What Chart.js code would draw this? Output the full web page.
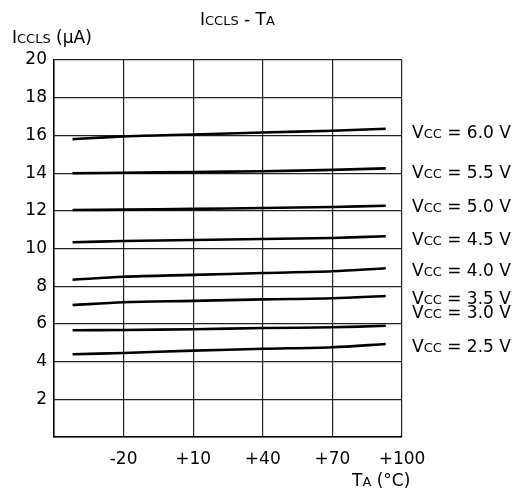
<!DOCTYPE html>
<html>
<head>
<meta charset="utf-8">
<script src="https://cdn.jsdelivr.net/npm/chart.js@4/dist/chart.umd.min.js"></script>
<style>
  body { margin: 0; background: #fff; }
  canvas { display: block; }
</style>
</head>
<body>
<canvas id="chart" width="523" height="494"></canvas>
<script>
// temperature points (°C)
var temps = [-42, -20, 10, 40, 70, 93];

// ICCLS (µA) for each supply voltage
var vcc60 = [15.8, 15.95, 16.05, 16.15, 16.25, 16.35];
var vcc55 = [13.99, 14.02, 14.06, 14.1, 14.17, 14.25];
var vcc50 = [12.04, 12.06, 12.1, 12.15, 12.2, 12.27];
var vcc45 = [10.33, 10.4, 10.45, 10.5, 10.56, 10.65];
var vcc40 = [8.34, 8.5, 8.6, 8.7, 8.79, 8.95];
var vcc35 = [7.0, 7.15, 7.22, 7.3, 7.36, 7.48];
var vcc30 = [5.66, 5.68, 5.72, 5.78, 5.82, 5.9];
var vcc25 = [4.39, 4.46, 4.58, 4.68, 4.76, 4.93];

var seriesNames = ["6.0 V", "5.5 V", "5.0 V", "4.5 V", "4.0 V", "3.5 V", "3.0 V", "2.5 V"];
var seriesData = [vcc60, vcc55, vcc50, vcc45, vcc40, vcc35, vcc30, vcc25];

// where the right hand labels sit (in µA)
var labelAt = [16.2, 14.07, 12.27, 10.5, 8.88, 7.36, 6.65, 4.84];

var FONT = "'DejaVu Sans', sans-serif";
var BIG = 17;
var SMALL = 13;

function drawParts(ctx, x, y, parts) {
    // parts: [text, size] drawn left to right on one baseline
    ctx.textAlign = "left";
    ctx.textBaseline = "alphabetic";
    for (var i = 0; i < parts.length; i++) {
        ctx.font = parts[i][1] + "px " + FONT;
        ctx.fillText(parts[i][0], x, y);
        x += ctx.measureText(parts[i][0]).width;
    }
}

var textPlugin = {
    id: "texts",
    afterDraw: function (chart) {
        var ctx = chart.ctx;
        var ys = chart.scales.y;
        var area = chart.chartArea;
        ctx.save();
        ctx.fillStyle = "#000";
        drawParts(ctx, 200, 25, [["I", BIG], ["CCLS", SMALL], [" - T", BIG], ["A", SMALL]]);
        drawParts(ctx, 12, 43, [["I", BIG], ["CCLS", SMALL], [" (\u00b5A)", BIG]]);
        drawParts(ctx, 352, 486, [["T", BIG], ["A", SMALL], [" (\u00b0C)", BIG]]);
        for (var i = 0; i < seriesNames.length; i++) {
            var py = ys.getPixelForValue(labelAt[i]) + 6;
            drawParts(ctx, area.right + 10, py, [["V", BIG], ["CC", SMALL], [" = " + seriesNames[i], BIG]]);
        }
        ctx.restore();
    }
};

var datasets = seriesData.map(function (vals, k) {
    return {
        label: "Vcc = " + seriesNames[k],
        data: temps.map(function (t, i) { return { x: t, y: vals[i] }; }),
        borderColor: "#000",
        borderWidth: 2.6,
        pointRadius: 0,
        tension: 0.3,
        fill: false
    };
});

new Chart(document.getElementById("chart").getContext("2d"), {
    type: "line",
    data: { datasets: datasets },
    options: {
        responsive: false,
        animation: false,
        devicePixelRatio: 1,
        layout: { padding: { top: 60, right: 121, left: 0, bottom: 0 } },
        plugins: { legend: { display: false }, tooltip: { enabled: false } },
        scales: {
            x: {
                type: "linear",
                min: -50,
                max: 100,
                afterFit: function (s) { s.height = 57; },
                ticks: {
                    stepSize: 30,
                    autoSkip: false,
                    maxRotation: 0,
                    padding: 12,
                    color: "#000",
                    font: { family: FONT, size: BIG },
                    callback: function (v) {
                        if (v === -50) return "";
                        return v > 0 ? "+" + v : "" + v;
                    }
                },
                grid: { color: "#222", lineWidth: 1.2, drawTicks: false },
                border: { color: "#000", width: 1.5 }
            },
            y: {
                min: 0,
                max: 20,
                afterFit: function (s) { s.width = 54; },
                ticks: {
                    stepSize: 2,
                    padding: 7,
                    color: "#000",
                    font: { family: FONT, size: BIG },
                    callback: function (v) { return v === 0 ? "" : "" + v; }
                },
                grid: { color: "#222", lineWidth: 1.2, drawTicks: false },
                border: { color: "#000", width: 1.5 }
            }
        }
    },
    plugins: [textPlugin]
});
</script>
</body>
</html>
